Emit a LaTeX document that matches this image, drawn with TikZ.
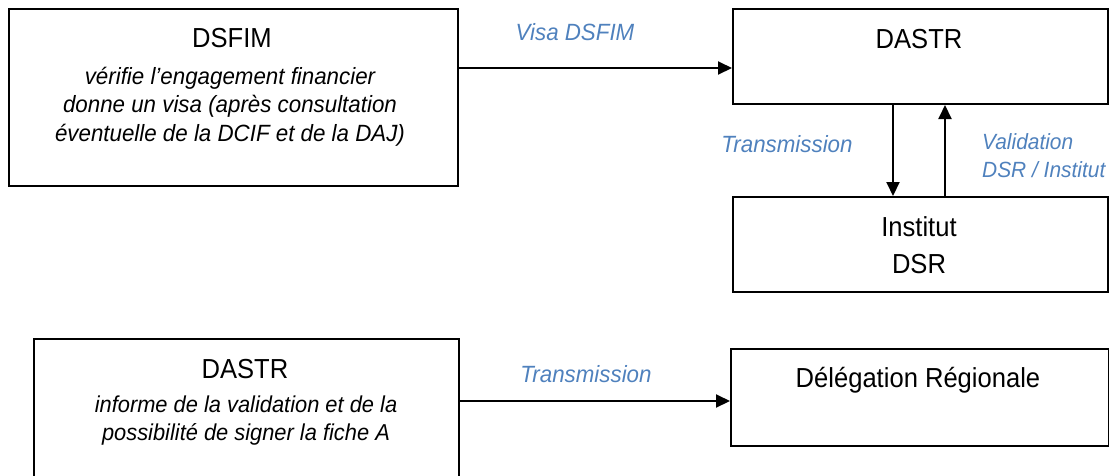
\documentclass[tikz,border=0pt]{standalone}
\usepackage{fontspec}
\setmainfont{Liberation Sans}
\newfontfamily\ttlfont[FakeStretch=0.93]{Liberation Sans}
\newfontfamily\descfont[FakeStretch=0.95]{Liberation Sans}
\usetikzlibrary{arrows.meta}
\definecolor{lblblue}{RGB}{79,129,189}
\begin{document}
\begin{tikzpicture}[x=1pt,y=-1pt,
  box/.style={draw,line width=2pt,inner sep=0pt,anchor=north west},
  ttl/.style={font=\ttlfont\fontsize{27.5}{37}\selectfont,anchor=base,inner sep=0pt,align=center},
  desc/.style={font=\descfont\fontsize{23.5}{28.5}\selectfont\itshape,anchor=base,inner sep=0pt,align=center},
  lbl/.style={font=\descfont\fontsize{23.5}{28}\selectfont\itshape,text=lblblue,anchor=base,inner sep=0pt},
  arr/.style={line width=2pt,-{Triangle[length=14pt,width=13pt]}}]
\useasboundingbox (0,0) rectangle (1109,475);
\clip (0,0) rectangle (1109,475);
% boxes
\node[box,minimum width=449pt,minimum height=177pt] (dsfim) at (8,8) {};
\node[box,minimum width=375pt,minimum height=95pt] (dastr) at (732,8) {};
\node[box,minimum width=375pt,minimum height=95pt] (inst) at (732,196) {};
\node[box,minimum width=425pt,minimum height=170pt] (dastrb) at (33,338) {};
\node[box,minimum width=378pt,minimum height=97pt] (dreg) at (730,348) {};
% texts (multi-line nodes are anchored at the last line's baseline)
\node[ttl] (t1) at (232,47) {DSFIM};
\node[desc] (d1) at (230,141) {vérifie l’engagement financier\\donne un visa (après consultation\\éventuelle de la DCIF et de la DAJ)};
\node[ttl] (t2) at (919,48) {DASTR};
\node[ttl] (t3) at (919,273) {Institut\\DSR};
\node[ttl] (t4) at (245,378) {DASTR};
\node[desc,font=\descfont\fontsize{23}{28}\selectfont\itshape] (d4) at (246,440) {informe de la validation et de la\\possibilité de signer la fiche A};
\node[ttl] (t5) at (918,387) {Délégation Régionale};
% labels
\node[lbl] (l1) at (575,40) {Visa DSFIM};
\node[lbl] (l2) at (787,152) {Transmission};
\node[lbl,font=\descfont\fontsize{22}{28}\selectfont\itshape,align=left,anchor=base west] (l3) at (982,177) {Validation\\DSR / Institut};
\node[lbl] (l4) at (586,382) {Transmission};
% connector helpers
\coordinate (ya) at (0,68);
\coordinate (xd) at (893,0);
\coordinate (xu) at (945,0);
\coordinate (yb) at (0,401);
% connectors
\draw[arr] (dsfim.east |- ya) -- (dastr.west |- ya);
\draw[arr] (dastr.south -| xd) -- (inst.north -| xd);
\draw[arr] (inst.north -| xu) -- (dastr.south -| xu);
\draw[arr] (dastrb.east |- yb) -- (dreg.west |- yb);
\end{tikzpicture}
\end{document}
